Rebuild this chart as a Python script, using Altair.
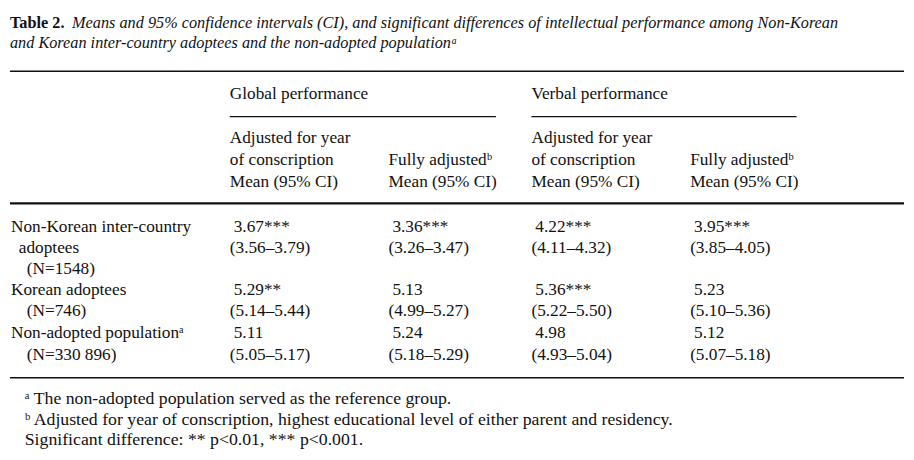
import altair as alt
import pandas as pd

# ---------------- data ----------------
title_label = "Table 2."
title_line1 = "Means and 95% confidence intervals (CI), and significant differences of intellectual performance among Non-Korean"
title_line2 = "and Korean inter-country adoptees and the non-adopted populationᵃ"

group_header = ["Global performance", "Verbal performance"]
sub_header_year = ["Adjusted for year", "of conscription", "Mean (95% CI)"]
sub_header_full = ["Fully adjustedᵇ", "Mean (95% CI)"]

group_lines = [
    ["Non-Korean inter-country", "adoptees", "(N=1548)"],
    ["Korean adoptees", "(N=746)"],
    ["Non-adopted populationᵃ", "(N=330 896)"],
]
global_year_mean = ["3.67***", "5.29**", "5.11"]
global_year_ci = ["(3.56–3.79)", "(5.14–5.44)", "(5.05–5.17)"]
global_full_mean = ["3.36***", "5.13", "5.24"]
global_full_ci = ["(3.26–3.47)", "(4.99–5.27)", "(5.18–5.29)"]
verbal_year_mean = ["4.22***", "5.36***", "4.98"]
verbal_year_ci = ["(4.11–4.32)", "(5.22–5.50)", "(4.93–5.04)"]
verbal_full_mean = ["3.95***", "5.23", "5.12"]
verbal_full_ci = ["(3.85–4.05)", "(5.10–5.36)", "(5.07–5.18)"]

footnotes = [
    "ᵃ The non-adopted population served as the reference group.",
    "ᵇ Adjusted for year of conscription, highest educational level of either parent and residency.",
    "Significant difference: ** p<0.01, *** p<0.001.",
]

# ---------------- layout (page pixel grid) ----------------
W, H = 898, 444
col_x = [230, 391, 536, 697]
indent = [8, 16, 24]
row_top = [227, 291, 335]
line_h = 21.5

texts = []  # x, y, text, style

texts.append(dict(x=7, y=20, text=title_label, style="bold"))
texts.append(dict(x=70, y=20, text=title_line1, style="italic"))
texts.append(dict(x=7, y=40, text=title_line2, style="italic"))

texts.append(dict(x=230, y=92, text=group_header[0], style="normal"))
texts.append(dict(x=536, y=92, text=group_header[1], style="normal"))

for g in range(2):
    cx_year = col_x[2 * g]
    cx_full = col_x[2 * g + 1]
    for i, t in enumerate(sub_header_year):
        texts.append(dict(x=cx_year, y=137 + i * 22, text=t, style="normal"))
    for i, t in enumerate(sub_header_full):
        texts.append(dict(x=cx_full, y=159 + i * 22, text=t, style="normal"))

value_cols = [
    (global_year_mean, global_year_ci),
    (global_full_mean, global_full_ci),
    (verbal_year_mean, verbal_year_ci),
    (verbal_full_mean, verbal_full_ci),
]
for r, lines in enumerate(group_lines):
    y0 = row_top[r]
    for i, t in enumerate(lines):
        ind = indent[i] if len(lines) == 3 else (indent[0] if i == 0 else indent[2])
        texts.append(dict(x=ind, y=y0 + i * line_h, text=t, style="normal"))
    for c, (means, cis) in enumerate(value_cols):
        texts.append(dict(x=col_x[c] + 4, y=y0, text=means[r], style="normal"))
        texts.append(dict(x=col_x[c], y=y0 + line_h, text=cis[r], style="normal"))

for i, t in enumerate(footnotes):
    texts.append(dict(x=22, y=402 + i * 20.5, text=t, style="foot"))

tdf = pd.DataFrame(texts)

rules = pd.DataFrame([
    dict(x=7, x2=914, y=69, w=1.5),
    dict(x=230, x2=500, y=115, w=1.2),
    dict(x=536, x2=805, y=115, w=1.2),
    dict(x=7, x2=914, y=203, w=2.2),
    dict(x=7, x2=914, y=380, w=1.5),
])

xs = alt.Scale(domain=[8, 8 + W], nice=False, zero=False)
ys = alt.Scale(domain=[8, 8 + H], nice=False, zero=False, reverse=True)

FONT = "Liberation Serif"

def text_layer(style, size, weight="normal", fstyle="normal"):
    return alt.Chart(tdf).transform_filter(alt.datum.style == style).mark_text(
        align="left", baseline="middle", font=FONT, fontSize=size,
        fontWeight=weight, fontStyle=fstyle, color="#111111"
    ).encode(
        x=alt.X("x:Q", scale=xs, axis=None),
        y=alt.Y("y:Q", scale=ys, axis=None),
        text="text:N",
    )

rule_layer = alt.Chart(rules).mark_rule(color="#111111").encode(
    x=alt.X("x:Q", scale=xs, axis=None),
    x2="x2:Q",
    y=alt.Y("y:Q", scale=ys, axis=None),
    strokeWidth=alt.StrokeWidth("w:Q", scale=None, legend=None),
)

chart = alt.layer(
    rule_layer,
    text_layer("normal", 17.5),
    text_layer("bold", 16.5, weight="bold"),
    text_layer("italic", 16.5, fstyle="italic"),
    text_layer("foot", 18),
).properties(width=W, height=H, padding=0, background="white").configure_view(stroke=None)

chart.save("out.html", embed_options={"renderer": "svg", "actions": False})
